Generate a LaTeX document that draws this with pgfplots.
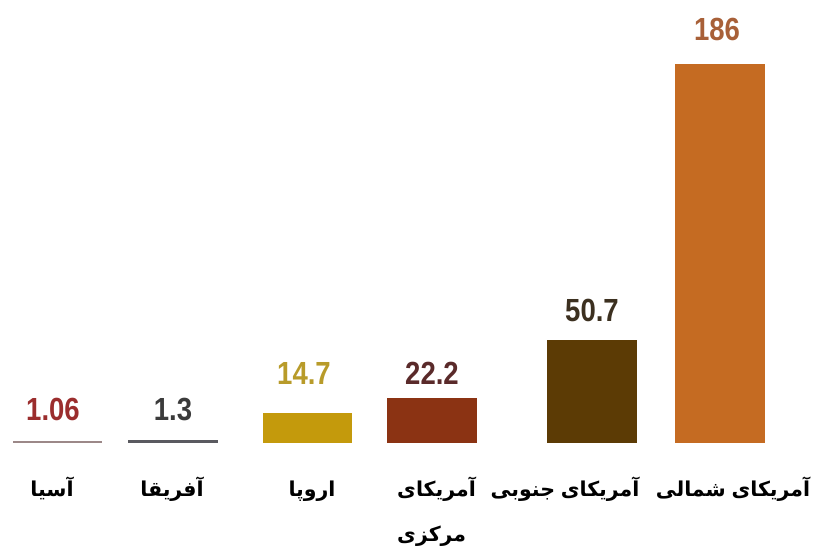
\documentclass[border=0pt]{standalone}
\usepackage{pgfplots}
\pgfplotsset{compat=1.18}
\usepackage{fontspec}
\TeXXeTstate=1
\newfontfamily\arabicfont[Script=Arabic,WordSpace=0.8]{DejaVu Sans}
\newfontfamily\numfont[FakeStretch=0.86]{Liberation Sans}
\definecolor{cAsia}{HTML}{9C8888}
\definecolor{cAfr}{HTML}{5A5A60}
\definecolor{cEur}{HTML}{C49A0C}
\definecolor{cCen}{HTML}{8B3313}
\definecolor{cSou}{HTML}{5C3B05}
\definecolor{cNor}{HTML}{C56B22}
\definecolor{tAsia}{HTML}{9B2D2D}
\definecolor{tAfr}{HTML}{3B3B3B}
\definecolor{tEur}{HTML}{B89B2A}
\definecolor{tCen}{HTML}{5A2A2A}
\definecolor{tSou}{HTML}{3C3020}
\definecolor{tNor}{HTML}{A86038}
\newcommand\numstyle{\numfont\bfseries\fontsize{32bp}{36bp}\selectfont}
\newcommand\labstyle{\arabicfont\bfseries\fontsize{20.5bp}{24bp}\selectfont}
\begin{document}
\begin{tikzpicture}
\begin{axis}[
  width=818bp, height=546bp, scale only axis,
  xmin=0, xmax=818, ymin=-50.49, ymax=217.16,
  hide axis, clip=false,
]
\addplot[ybar, bar width=89, bar shift=0pt, fill=cAsia, draw=none] coordinates {(57.5,1.06)};
\addplot[ybar, bar width=90, bar shift=0pt, fill=cAfr, draw=none] coordinates {(173,1.3)};
\addplot[ybar, bar width=89, bar shift=0pt, fill=cEur, draw=none] coordinates {(307.5,14.7)};
\addplot[ybar, bar width=90, bar shift=0pt, fill=cCen, draw=none] coordinates {(432,22.2)};
\addplot[ybar, bar width=90, bar shift=0pt, fill=cSou, draw=none] coordinates {(592,50.7)};
\addplot[ybar, bar width=90, bar shift=0pt, fill=cNor, draw=none] coordinates {(720,186)};
% value labels
\node[inner sep=0pt, text=tAsia, font=\numstyle] at (axis cs:53,16.2) {1.06};
\node[inner sep=0pt, text=tAfr, font=\numstyle] at (axis cs:173,16.2) {1.3};
\node[inner sep=0pt, text=tEur, font=\numstyle] at (axis cs:304,34.3) {14.7};
\node[inner sep=0pt, text=tCen, font=\numstyle] at (axis cs:432,34.3) {22.2};
\node[inner sep=0pt, text=tSou, font=\numstyle] at (axis cs:592,65.2) {50.7};
\node[inner sep=0pt, text=tNor, font=\numstyle] at (axis cs:717,202.9) {186};
% category labels
\node[inner sep=0pt, anchor=base, font=\labstyle] at (axis cs:52,-26.0) {\beginR آسیا\endR};
\node[inner sep=0pt, anchor=base, font=\labstyle] at (axis cs:172,-26.0) {\beginR آفریقا\endR};
\node[inner sep=0pt, anchor=base, font=\labstyle] at (axis cs:312,-26.0) {\beginR اروپا\endR};
\node[inner sep=0pt, anchor=base west, font=\labstyle] at (axis cs:397,-26.0) {\beginR آمریکای\endR};
\node[inner sep=0pt, anchor=base west, font=\labstyle] at (axis cs:397,-48.5) {\beginR مرکزی\endR};
\node[inner sep=0pt, anchor=base, font=\labstyle] at (axis cs:565,-26.0) {\beginR آمریکای جنوبی\endR};
\node[inner sep=0pt, anchor=base, font=\labstyle] at (axis cs:733,-26.0) {\beginR آمریکای شمالی\endR};
\coordinate (bl) at (axis cs:0,-50.49);
\coordinate (tr) at (axis cs:818,217.16);
\end{axis}
\pgfresetboundingbox
\useasboundingbox (bl) rectangle (tr);
\end{tikzpicture}
\end{document}
